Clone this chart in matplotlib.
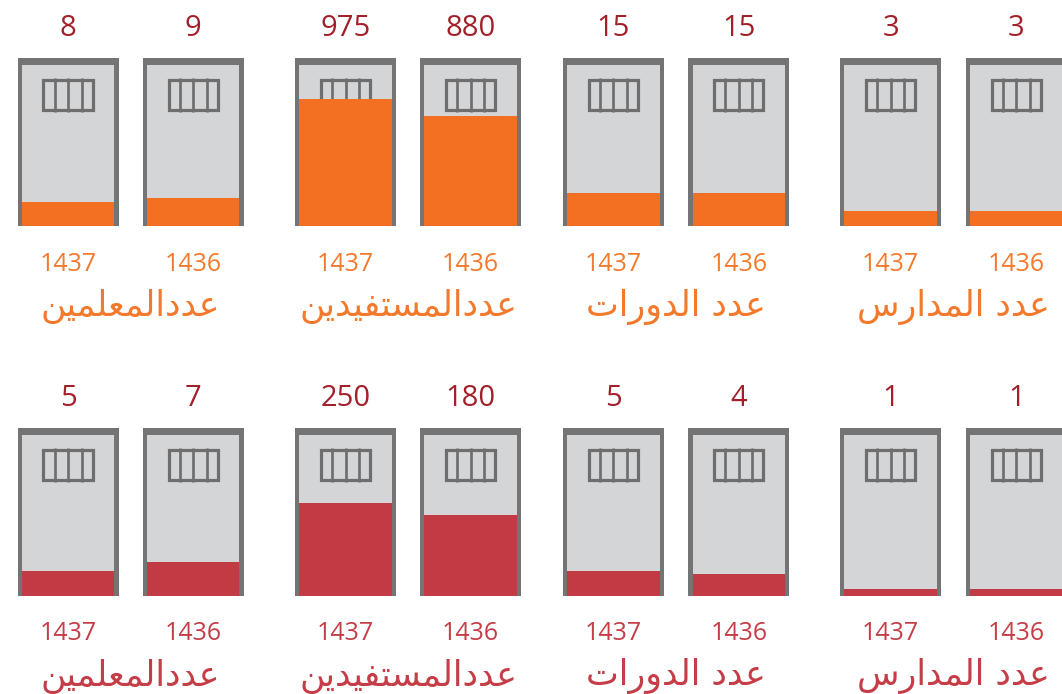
import matplotlib
matplotlib.use('Agg')
import matplotlib.pyplot as plt
from matplotlib.patches import Rectangle

# Dados (da esquerda para a direita)
categorias = ['عددالمعلمين', 'عددالمستفيدين', 'عدد الدورات', 'عدد المدارس']
anos = ['1437', '1436']
valores_cima = [[8, 9], [975, 880], [15, 15], [3, 3]]
valores_baixo = [[5, 7], [250, 180], [5, 4], [1, 1]]
# nivel de preenchimento da porta (% da altura)
nivel_cima = [[14.4, 16.8], [78.3, 68.3], [19.9, 19.9], [8.7, 8.7]]
nivel_baixo = [[15.3, 20.9], [57.6, 50.1], [15.3, 13.5], [4.1, 4.1]]

W, H = 1062, 694
cinza = '#d4d5d7'
moldura = '#747474'
cor_valor = '#a3202a'
cores_linha = ['#f36f21', '#c23a44']
cores_texto = ['#f37a2c', '#c43d47']

# formas de apresentacao arabe: (isolada, final, inicial, medial)
FORMAS = {
    'ا': ('\ufe8d', '\ufe8e', None, None),
    'ت': ('\ufe95', '\ufe96', '\ufe97', '\ufe98'),
    'د': ('\ufea9', '\ufeaa', None, None),
    'ر': ('\ufead', '\ufeae', None, None),
    'س': ('\ufeb1', '\ufeb2', '\ufeb3', '\ufeb4'),
    'ع': ('\ufec9', '\ufeca', '\ufecb', '\ufecc'),
    'ف': ('\ufed1', '\ufed2', '\ufed3', '\ufed4'),
    'ل': ('\ufedd', '\ufede', '\ufedf', '\ufee0'),
    'م': ('\ufee1', '\ufee2', '\ufee3', '\ufee4'),
    'ن': ('\ufee5', '\ufee6', '\ufee7', '\ufee8'),
    'و': ('\ufeed', '\ufeee', None, None),
    'ي': ('\ufef1', '\ufef2', '\ufef3', '\ufef4'),
}


def arabe(texto):
    out = []
    for i, ch in enumerate(texto):
        if ch not in FORMAS:
            out.append(ch)
            continue
        ant = texto[i - 1] if i > 0 else None
        prox = texto[i + 1] if i + 1 < len(texto) else None
        liga_ant = ant in FORMAS and FORMAS[ant][2] is not None
        liga_prox = FORMAS[ch][2] is not None and prox in FORMAS
        iso, fin, ini, med = FORMAS[ch]
        if liga_ant and liga_prox:
            out.append(med)
        elif liga_ant:
            out.append(fin)
        elif liga_prox:
            out.append(ini)
        else:
            out.append(iso)
    return ''.join(reversed(out))


# layout em pixels
portas_x = [17.5, 142.7, 295, 420, 562.7, 688.3, 840, 965.7]
larg, alt = 101, 168
borda_lado, borda_topo = 4.2, 7
topo_linhas = [57.5, 427.5]

fig = plt.figure(figsize=(W / 100, H / 100), dpi=100)
bg = fig.add_axes([0, 0, 1, 1])
bg.set_xlim(0, W)
bg.set_ylim(H, 0)
bg.axis('off')

in_w = larg - 2 * borda_lado
in_h = alt - borda_topo

for r, (valores, niveis) in enumerate([(valores_cima, nivel_cima), (valores_baixo, nivel_baixo)]):
    topo = topo_linhas[r]
    for g in range(4):
        for k in range(2):
            x0 = portas_x[2 * g + k]
            bg.add_patch(Rectangle((x0, topo), larg, alt, facecolor=moldura, edgecolor='none'))
            ax = fig.add_axes([(x0 + borda_lado) / W, 1 - (topo + alt) / H, in_w / W, in_h / H])
            ax.set_facecolor(cinza)
            ax.set_xlim(0, 1)
            ax.set_ylim(0, 100)
            ax.set_xticks([])
            ax.set_yticks([])
            for s in ax.spines.values():
                s.set_visible(False)
            # janela com grades
            jw, jh = 52.3, 33.7
            jx = (in_w - jw) / 2
            jy = 13.7
            lw = 3.2
            ax.add_patch(Rectangle(((jx + lw / 2) / in_w, 1 - (jy + jh - lw / 2) / in_h),
                                   (jw - lw) / in_w, (jh - lw) / in_h, transform=ax.transAxes,
                                   facecolor='none', edgecolor='#6e6e6e', linewidth=lw * 0.72, zorder=2))
            for d in (-13.5, 0, 13.5):
                xd = (in_w / 2 + d) / in_w
                ax.plot([xd, xd], [1 - jy / in_h, 1 - (jy + jh) / in_h], transform=ax.transAxes,
                        color='#6e6e6e', linewidth=2.7 * 0.72, solid_capstyle='butt', zorder=2)
            ax.bar(0.5, niveis[g][k], width=1, color=cores_linha[r], linewidth=0, zorder=3)

            cx = x0 + larg / 2
            bg.text(cx, topo - 29, str(valores[g][k]), ha='center', va='center',
                    fontsize=21, color=cor_valor, family=['Open Sans', 'DejaVu Sans'])
            bg.text(cx, topo + 206.5, anos[k], ha='center', va='center',
                    fontsize=18, color=cores_texto[r], family=['Open Sans', 'DejaVu Sans'])
        cg = (portas_x[2 * g] + portas_x[2 * g + 1] + larg) / 2
        bg.text(cg, topo + 258, arabe(categorias[g]), ha='center', va='baseline',
                fontsize=25, color=cores_texto[r], family=['DejaVu Sans'])

fig.savefig('out.png', dpi=100)
